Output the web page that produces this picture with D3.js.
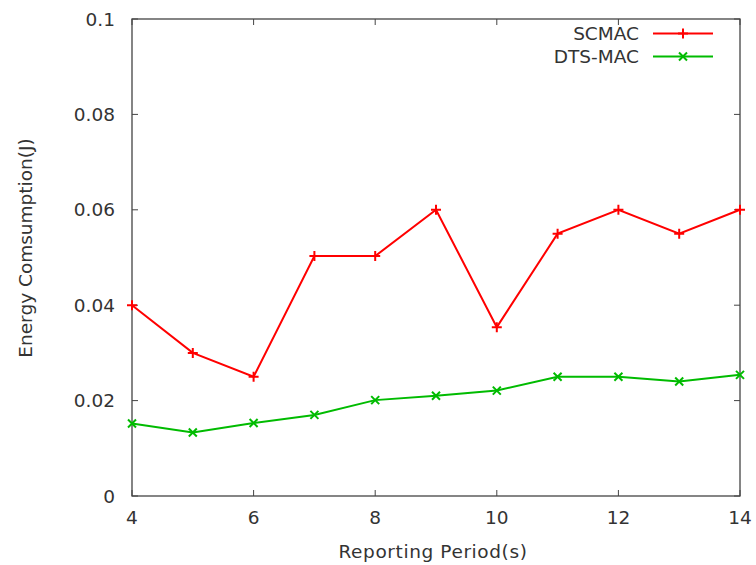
<!DOCTYPE html>
<html><head><meta charset="utf-8">
<script src="https://cdn.jsdelivr.net/npm/d3@7"></script>
<style>body{margin:0;background:#fff}svg{display:block}text{font-family:"DejaVu Sans",sans-serif;fill:#333}</style>
</head><body>
<script>
const periods = [4,5,6,7,8,9,10,11,12,13,14];
const scmac = [0.040,0.030,0.025,0.0503,0.0503,0.060,0.0354,0.055,0.060,0.055,0.060];
const dtsmac = [0.0152,0.0133,0.0153,0.0170,0.0201,0.0210,0.0221,0.0250,0.0250,0.0240,0.0254];
const xTicks = [4,6,8,10,12,14];
const yTicks = [0,0.02,0.04,0.06,0.08,0.1];
const seriesNames = ["SCMAC","DTS-MAC"];
const colors = ["#ff0000","#00bb00"];

const W=756,H=565, L=132,R=740,T=19,B=496, FS=18.5;
const svg=d3.select("body").append("svg").attr("width",W).attr("height",H);
const x=d3.scaleLinear().domain([4,14]).range([L,R]);
const y=d3.scaleLinear().domain([0,0.1]).range([B,T]);
const fmt=d=>d===0?"0":String(+d.toFixed(2));

svg.append("rect").attr("x",L).attr("y",T).attr("width",R-L).attr("height",B-T)
  .attr("fill","none").attr("stroke","#444").attr("stroke-width",1.3);
const tk=6;
const g=svg.append("g").attr("stroke","#444").attr("stroke-width",1);
xTicks.forEach(v=>{
  g.append("line").attr("x1",x(v)).attr("x2",x(v)).attr("y1",B).attr("y2",B-tk);
  g.append("line").attr("x1",x(v)).attr("x2",x(v)).attr("y1",T).attr("y2",T+tk);
});
yTicks.forEach(v=>{
  g.append("line").attr("x1",L).attr("x2",L+tk).attr("y1",y(v)).attr("y2",y(v));
  g.append("line").attr("x1",R).attr("x2",R-tk).attr("y1",y(v)).attr("y2",y(v));
});
svg.selectAll(".xt").data(xTicks).join("text").attr("x",d=>x(d)).attr("y",524)
  .attr("text-anchor","middle").attr("font-size",FS).text(d=>d);
svg.selectAll(".yt").data(yTicks).join("text").attr("x",115).attr("y",d=>y(d)+6.5)
  .attr("text-anchor","end").attr("font-size",FS).text(fmt);
svg.append("text").attr("x",433).attr("y",558).attr("text-anchor","middle").attr("font-size",FS).attr("letter-spacing",0.6).text("Reporting Period(s)");
svg.append("text").attr("transform","translate(32,248) rotate(-90)").attr("text-anchor","middle").attr("font-size",FS).text("Energy Comsumption(J)");

const line=d3.line().x((d,i)=>x(periods[i])).y(d=>y(d));
function plus(sel,cx,cy,c){const s=5;sel.append("path").attr("d",`M${cx-s},${cy}H${cx+s}M${cx},${cy-s}V${cy+s}`).attr("stroke",c).attr("stroke-width",2).attr("fill","none");}
function cross(sel,cx,cy,c){const s=4;sel.append("path").attr("d",`M${cx-s},${cy-s}L${cx+s},${cy+s}M${cx-s},${cy+s}L${cx+s},${cy-s}`).attr("stroke",c).attr("stroke-width",2).attr("fill","none");}
const markers=[plus,cross];
[scmac,dtsmac].forEach((s,k)=>{
  svg.append("path").datum(s).attr("d",line).attr("fill","none").attr("stroke",colors[k]).attr("stroke-width",2);
  s.forEach((v,i)=>markers[k](svg,x(periods[i]),y(v),colors[k]));
});
seriesNames.forEach((n,k)=>{
  const ly=33.5+k*23;
  svg.append("text").attr("x",639).attr("y",ly+6.5).attr("text-anchor","end").attr("font-size",FS).text(n);
  svg.append("line").attr("x1",653).attr("x2",713).attr("y1",ly).attr("y2",ly).attr("stroke",colors[k]).attr("stroke-width",2);
  markers[k](svg,683,ly,colors[k]);
});
</script>
</body></html>
